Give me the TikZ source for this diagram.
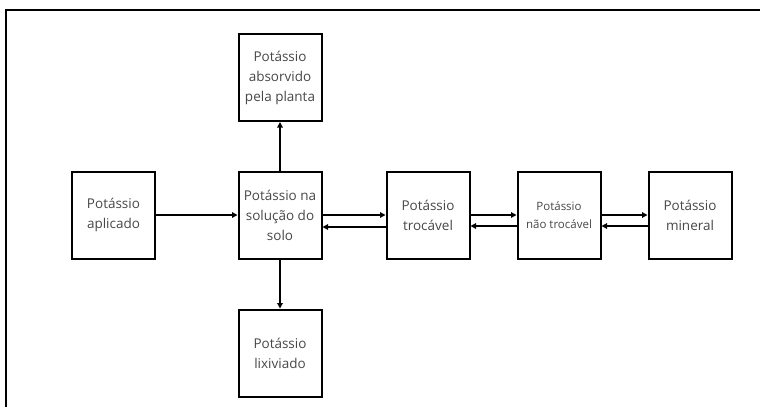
\documentclass[tikz,border=0pt]{standalone}
\usepackage{fontspec}
\setmainfont{Open Sans}
\usetikzlibrary{arrows.meta,positioning}

\tikzset{
  kbox/.style={draw,line width=2pt,minimum width=83pt,minimum height=87pt,
    inner sep=1pt,align=center,text=black!72,font=\fontsize{13.5}{20}\selectfont},
  flow/.style={line width=1.2pt,-{Triangle[length=5.5pt,width=5.5pt]}},
}

\begin{document}
\begin{tikzpicture}[x=1pt,y=-1pt]
  \useasboundingbox (0,0) rectangle (760,407);
  % frame
  \draw[line width=2pt] (6,407) -- (6,10) -- (760,10);
  % boxes
  \node[kbox] (aplicado) at (113.5,215) {Potássio\\aplicado};
  \node[kbox] (solucao) at (280,215) {Potássio na\\solução do\\solo};
  \node[kbox] (absorvido) at (280,77.5) {Potássio\\absorvido\\pela planta};
  \node[kbox] (lixiviado) at (280,353) {Potássio\\lixiviado};
  \node[kbox] (trocavel) at (428,215) {Potássio\\trocável};
  \node[kbox,font=\fontsize{11.5}{18}\selectfont] (naotrocavel) at (559,215) {Potássio\\não trocável};
  \node[kbox] (mineral) at (690,215) {Potássio\\mineral};
  % arrows
  \draw[flow] (aplicado) -- (solucao);
  \draw[flow] (solucao) -- (absorvido);
  \draw[flow] (solucao) -- (lixiviado);
  \draw[flow] (solucao.east) -- (trocavel.west);
  \draw[flow] ([yshift=-12pt]trocavel.west) -- ([yshift=-12pt]solucao.east);
  \draw[flow] (trocavel.east) -- (naotrocavel.west);
  \draw[flow] ([yshift=-11pt]naotrocavel.west) -- ([yshift=-11pt]trocavel.east);
  \draw[flow] (naotrocavel.east) -- (mineral.west);
  \draw[flow] ([yshift=-11pt]mineral.west) -- ([yshift=-11pt]naotrocavel.east);
\end{tikzpicture}
\end{document}
